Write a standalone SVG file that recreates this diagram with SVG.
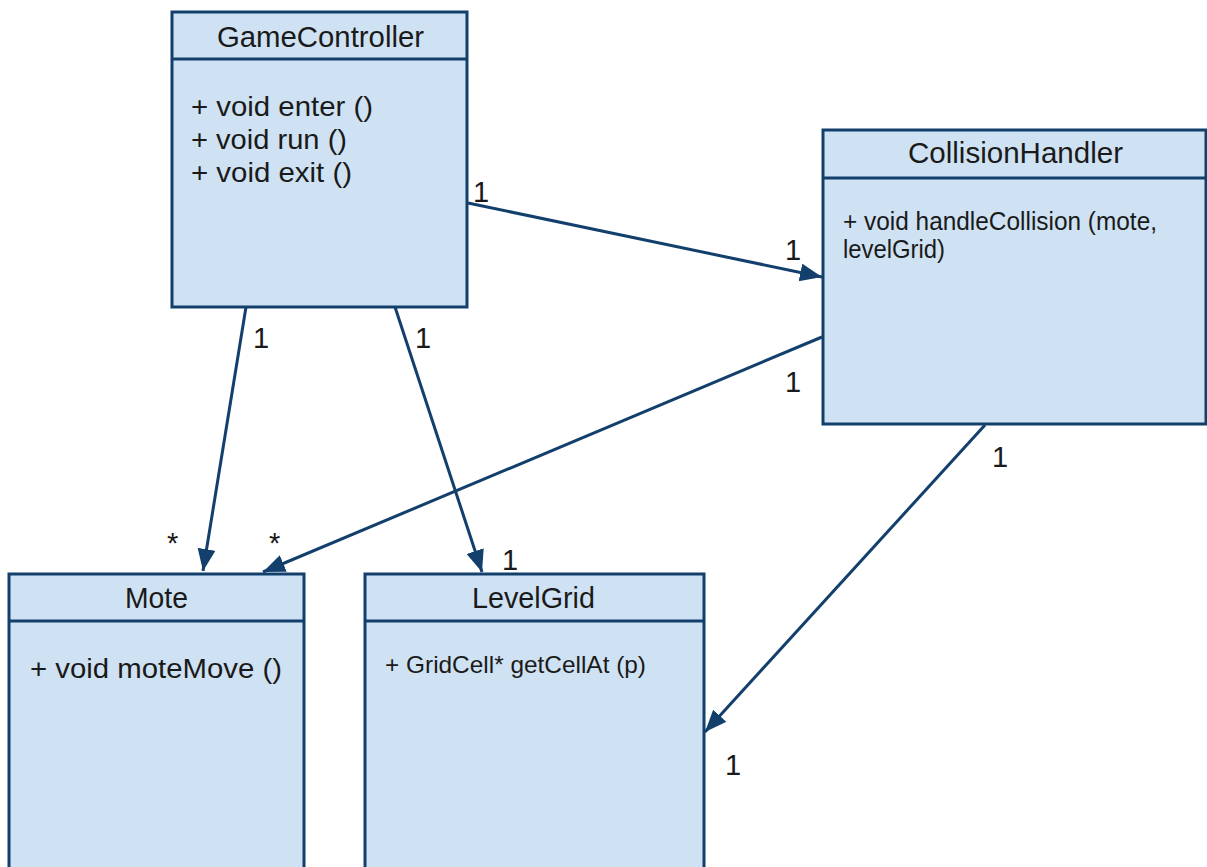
<svg xmlns="http://www.w3.org/2000/svg" width="1207" height="867" viewBox="0 0 1207 867">
<style>
.box{fill:#cfe2f3;stroke:#123f6c;stroke-width:3}
.div{stroke:#123f6c;stroke-width:3}
.t{font-family:"Liberation Sans",Arial,sans-serif;fill:#1a1a1a}
.h{font-size:29px}
.m{font-size:28px}
.lbl{font-family:"Liberation Sans",Arial,sans-serif;font-size:29px;fill:#1a1a1a}
.conn{stroke:#123f6c;stroke-width:3;fill:none;marker-end:url(#arr)}
</style>
<defs>
<marker id="arr" markerUnits="userSpaceOnUse" markerWidth="24" markerHeight="20" refX="22" refY="9" orient="auto">
<path d="M0,0 L22,9 L0,18 Z" fill="#123f6c"/>
</marker>
</defs>
<rect width="1207" height="867" fill="#ffffff"/>
<g id="GameController">
<rect class="box" x="172" y="12" width="295" height="295"/>
<line class="div" x1="172" y1="59" x2="467" y2="59"/>
<text class="t h" x="217" y="47" textLength="207" lengthAdjust="spacingAndGlyphs">GameController</text>
<text class="t m" x="191" y="116" textLength="182" lengthAdjust="spacingAndGlyphs">+ void enter ()</text>
<text class="t m" x="191" y="149" textLength="156" lengthAdjust="spacingAndGlyphs">+ void run ()</text>
<text class="t m" x="191" y="182" textLength="161" lengthAdjust="spacingAndGlyphs">+ void exit ()</text>
</g>
<g id="CollisionHandler">
<rect class="box" x="823" y="130" width="383" height="294"/>
<line class="div" x1="823" y1="178" x2="1206" y2="178"/>
<text class="t h" x="908" y="163" textLength="215" lengthAdjust="spacingAndGlyphs">CollisionHandler</text>
<text class="t" font-size="26" x="843" y="230" textLength="314" lengthAdjust="spacingAndGlyphs">+ void handleCollision (mote,</text>
<text class="t" font-size="26" x="843" y="258" textLength="102" lengthAdjust="spacingAndGlyphs">levelGrid)</text>
</g>
<g id="Mote">
<rect class="box" x="9" y="574" width="295" height="320"/>
<line class="div" x1="9" y1="621" x2="304" y2="621"/>
<text class="t h" x="125" y="608" textLength="63" lengthAdjust="spacingAndGlyphs">Mote</text>
<text class="t" font-size="27" x="30" y="678" textLength="252" lengthAdjust="spacingAndGlyphs">+ void moteMove ()</text>
</g>
<g id="LevelGrid">
<rect class="box" x="365" y="574" width="339" height="320"/>
<line class="div" x1="365" y1="621" x2="704" y2="621"/>
<text class="t h" x="472" y="608" textLength="123" lengthAdjust="spacingAndGlyphs">LevelGrid</text>
<text class="t" font-size="24.5" x="385" y="673" textLength="261" lengthAdjust="spacingAndGlyphs">+ GridCell* getCellAt (p)</text>
</g>
<g id="connectors">
<line class="conn" x1="468" y1="203" x2="822" y2="277"/>
<line class="conn" x1="246" y1="307" x2="203" y2="571"/>
<line class="conn" x1="395" y1="307" x2="482" y2="572"/>
<line class="conn" x1="822" y1="337" x2="263" y2="572"/>
<line class="conn" x1="985" y1="425" x2="705" y2="732"/>
<text class="lbl" x="473" y="202">1</text>
<text class="lbl" x="785" y="260">1</text>
<text class="lbl" x="253" y="348">1</text>
<text class="lbl" x="415" y="348">1</text>
<text class="lbl" x="502" y="570">1</text>
<text class="lbl" x="785" y="392">1</text>
<text class="lbl" x="992" y="467">1</text>
<text class="lbl" x="725" y="775">1</text>
<text class="lbl" x="167" y="553">*</text>
<text class="lbl" x="269" y="553">*</text>
</g>
</svg>
